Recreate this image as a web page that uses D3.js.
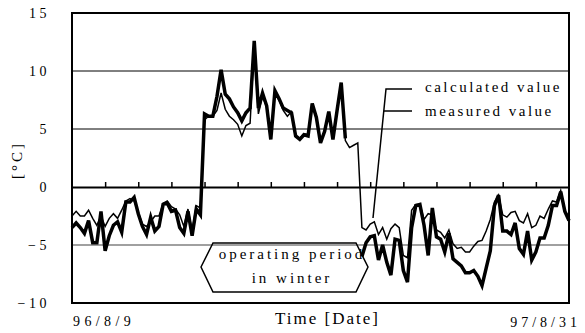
<!DOCTYPE html>
<html>
<head>
<meta charset="utf-8">
<script src="https://cdn.jsdelivr.net/npm/d3@7"></script>
<style>
  body { margin: 0; background: #fff; }
  svg { display: block; font-family: "Liberation Serif", "Times New Roman", serif; }
</style>
</head>
<body>
<div id="chart"></div>
<script>
// measured (thick) and calculated (thin) temperatures, one value per sample, [°C]
const measured = [
  -3.5, -3.1, -3.5, -4.0, -2.9, -4.8, -4.8, -2.1, -5.5, -4.2,
  -3.3, -3.0, -3.9, -1.3, -1.3, -0.9, -2.3, -3.4, -4.1, -2.6,
  -3.8, -3.4, -1.5, -1.4, -2.1, -2.0, -3.5, -4.0, -2.1, -4.2,
  -1.9, -2.4, 6.3, 6.1, 6.1, 7.8, 10.1, 8.0, 7.6, 6.9,
  6.4, 5.7, 6.4, 6.8, 12.6, 6.8, 8.1, 7.0, 4.1, 8.3,
  7.6, 6.8, 6.6, 6.4, 4.4, 4.1, 4.5, 4.4, 7.2, 6.0,
  3.8, 4.8, 6.5, 4.1, 6.6, 9.0, 4.2, null, null, null,
  -6.0, -4.8, -4.3, -4.2, -6.3, -5.0, -6.5, -7.6, -4.5, -4.6,
  -7.2, -8.2, -3.5, -1.6, -1.5, -3.3, -5.9, -1.8, -4.3, -4.5,
  -5.6, -4.0, -6.2, -6.5, -6.8, -7.4, -7.4, -7.2, -7.7, -8.5,
  -7.0, -5.5, -1.6, -0.7, -3.8, -3.8, -4.1, -3.1, -5.3, -5.8,
  -3.8, -6.3, -5.6, -4.4, -4.4, -3.3, -1.6, -1.6, -0.4, -2.1,
  -2.9
];
const calculated = [
  -2.5, -2.1, -2.5, -2.5, -2.0, -2.7, -3.3, -2.5, -3.4, -2.7,
  -2.3, -2.7, -2.0, -1.2, -1.0, -1.2, -2.2, -3.2, -3.4, -3.0,
  -2.5, -2.5, -1.4, -1.2, -1.7, -1.9, -2.4, -3.4, -1.9, -3.8,
  -1.6, -1.8, 5.8, 6.1, 6.1, 6.6, 8.1, 6.7, 6.1, 5.8,
  5.4, 4.4, 5.3, 5.5, 12.3, 6.3, 7.8, 6.9, 4.4, 8.1,
  7.5, 6.6, 6.1, 6.5, 4.4, 4.2, 4.6, 4.5, 7.0, 6.1,
  3.9, 4.9, 6.4, 4.2, 6.5, 8.8, 4.0, 3.4, 3.6, 3.8,
  -3.5, -3.7, -3.2, -3.0, -4.1, -3.5, -4.5, -3.6, -3.2, -3.5,
  -5.9, -6.1, -2.0, -1.5, -1.5, -2.8, -2.3, -2.4, -3.7, -3.9,
  -4.4, -3.7, -4.9, -5.3, -5.2, -5.6, -5.6, -5.1, -4.7, -4.6,
  -3.8, -2.8, -1.3, -0.7, -2.4, -2.6, -2.2, -2.1, -2.9, -3.1,
  -2.3, -3.5, -3.3, -2.5, -2.7, -1.9, -1.2, -1.3, -0.3, -2.0,
  -2.6
];
const yTicks = [15, 10, 5, 0, -5, -10];
const blackGrid = [10, 5];
const grayGrid = [-5];
const xTickStep = 8;
const startLabel = "96/8/9";
const endLabel = "97/8/31";
const xTitle = "Time [Date]";
const yTitle = "[°C]";
const legendLabels = ["calculated value", "measured value"];
const periodLabel = ["operating period", "in winter"];

const width = 585, height = 333;
const svg = d3.select("#chart").append("svg")
  .attr("width", width)
  .attr("height", height);

const x = d3.scaleLinear().domain([0, measured.length - 1]).range([72, 569]);
const y = d3.scaleLinear().domain([-10, 15]).range([303, 13]);

// horizontal grid lines
svg.selectAll(".grid-black")
  .data(blackGrid)
  .enter().append("line")
  .attr("x1", x.range()[0]).attr("x2", x.range()[1])
  .attr("y1", d => y(d)).attr("y2", d => y(d))
  .attr("stroke", "#000").attr("stroke-width", 1);

svg.selectAll(".grid-gray")
  .data(grayGrid)
  .enter().append("line")
  .attr("x1", x.range()[0]).attr("x2", x.range()[1])
  .attr("y1", d => y(d)).attr("y2", d => y(d))
  .attr("stroke", "#808080").attr("stroke-width", 1.5);

// zero line with ticks pointing up
const zeroAxis = svg.append("g")
  .attr("transform", `translate(0,${y(0)})`)
  .call(d3.axisTop(x)
    .tickValues(d3.range(xTickStep, measured.length - 1, xTickStep))
    .tickSize(5)
    .tickSizeOuter(0)
    .tickFormat(""));
zeroAxis.select(".domain").attr("stroke-width", 2);
zeroAxis.selectAll(".tick line").attr("stroke-width", 1.5);

// y labels
const yAxis = svg.append("g")
  .attr("transform", `translate(${x.range()[0]},0)`)
  .call(d3.axisLeft(y).tickValues(yTicks).tickSize(0).tickPadding(22).tickFormat(d3.format("d")));
yAxis.select(".domain").remove();
yAxis.selectAll("text")
  .attr("font-family", "Liberation Serif, serif")
  .attr("font-size", 14)
  .attr("letter-spacing", "3.5px")
  .attr("fill", "#000");

// data lines
const line = d3.line()
  .defined(d => d != null)
  .x((d, i) => x(i))
  .y(d => y(d));

svg.append("path")
  .datum(measured)
  .attr("d", line)
  .attr("fill", "none")
  .attr("stroke", "#000")
  .attr("stroke-width", 3.5);

svg.append("path")
  .datum(calculated)
  .attr("d", line)
  .attr("fill", "none")
  .attr("stroke", "#000")
  .attr("stroke-width", 1.5);

// plot border
svg.append("rect")
  .attr("x", x.range()[0]).attr("y", y.range()[1])
  .attr("width", x.range()[1] - x.range()[0])
  .attr("height", y.range()[0] - y.range()[1])
  .attr("fill", "none")
  .attr("stroke", "#000")
  .attr("stroke-width", 2);

// axis texts
svg.append("text")
  .attr("x", 73).attr("y", 326)
  .attr("font-size", 14).attr("letter-spacing", "4.4px")
  .text(startLabel);

svg.append("text")
  .attr("x", 581).attr("y", 327)
  .attr("text-anchor", "end")
  .attr("font-size", 14).attr("letter-spacing", "4px")
  .text(endLabel);

svg.append("text")
  .attr("x", 275).attr("y", 324)
  .attr("font-size", 17).attr("letter-spacing", "2px")
  .text(xTitle);

svg.append("text")
  .attr("transform", "translate(22,160) rotate(-90)")
  .attr("text-anchor", "middle")
  .attr("font-size", 15).attr("letter-spacing", "3px")
  .text(yTitle);

// legend with leader line
svg.append("path")
  .attr("d", "M412,89 L386,89 L373,218")
  .attr("fill", "none").attr("stroke", "#000").attr("stroke-width", 1.5);
svg.append("line")
  .attr("x1", 384).attr("x2", 412).attr("y1", 111).attr("y2", 111)
  .attr("stroke", "#000").attr("stroke-width", 1.5);

svg.selectAll(".legend-text")
  .data(legendLabels)
  .enter().append("text")
  .attr("x", 425)
  .attr("y", (d, i) => 92 + i * 24)
  .attr("font-size", 15)
  .attr("letter-spacing", "2.5px")
  .text(d => d);

// hexagon label for the heating period
svg.append("polygon")
  .attr("points", "201,267 213,243 356,243 368,267 356,292 213,292")
  .attr("fill", "none")
  .attr("stroke", "#000")
  .attr("stroke-width", 1.5);

svg.selectAll(".period-text")
  .data(periodLabel)
  .enter().append("text")
  .attr("x", 292)
  .attr("y", (d, i) => 259 + i * 24)
  .attr("text-anchor", "middle")
  .attr("font-size", 15)
  .attr("letter-spacing", "3px")
  .text(d => d);
</script>
</body>
</html>
